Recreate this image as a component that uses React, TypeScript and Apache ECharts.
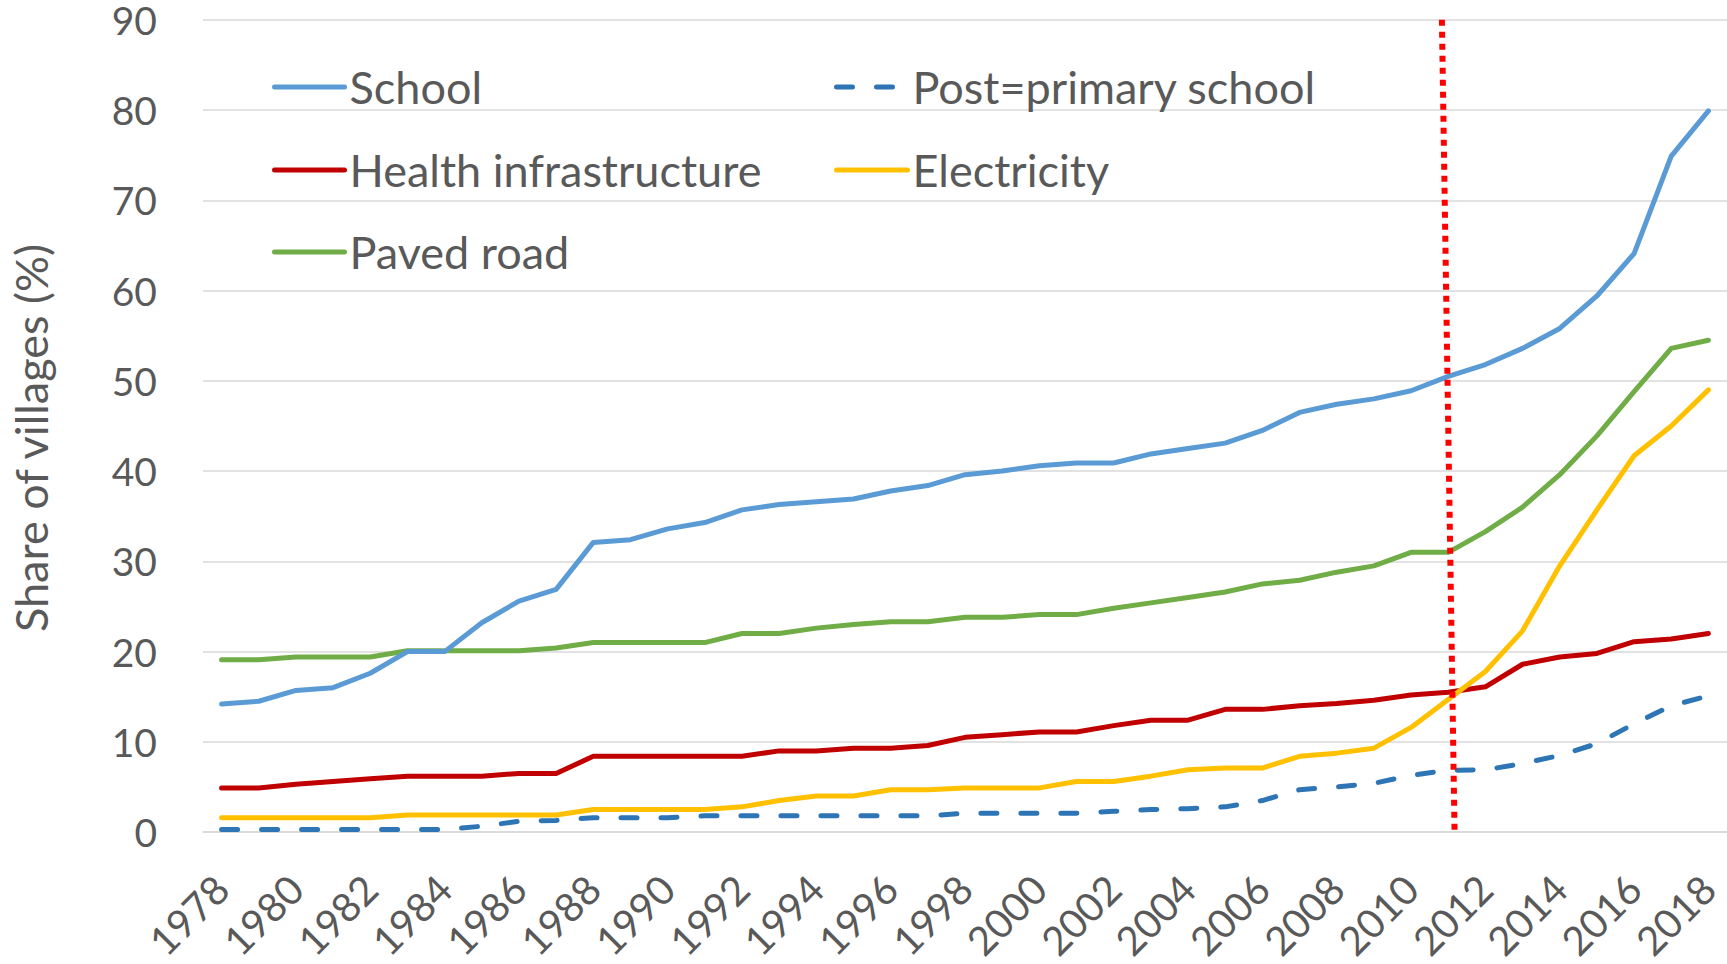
import React, { useEffect, useRef } from "react";
import * as echarts from "echarts";

const years = ["1978","1979","1980","1981","1982","1983","1984","1985","1986","1987","1988","1989","1990","1991","1992","1993","1994","1995","1996","1997","1998","1999","2000","2001","2002","2003","2004","2005","2006","2007","2008","2009","2010","2011","2012","2013","2014","2015","2016","2017","2018"];

const school = [14.2, 14.5, 15.7, 16.0, 17.6, 20.0, 20.0, 23.2, 25.6, 26.9, 32.1, 32.4, 33.6, 34.3, 35.7, 36.3, 36.6, 36.9, 37.8, 38.4, 39.6, 40.0, 40.6, 40.9, 40.9, 41.9, 42.5, 43.1, 44.5, 46.5, 47.4, 48.0, 48.9, 50.5, 51.8, 53.6, 55.8, 59.4, 64.1, 74.9, 79.9];
const postPrimary = [0.3, 0.3, 0.3, 0.3, 0.3, 0.3, 0.3, 0.65, 1.2, 1.3, 1.6, 1.6, 1.6, 1.8, 1.8, 1.8, 1.8, 1.8, 1.8, 1.8, 2.1, 2.1, 2.1, 2.1, 2.3, 2.5, 2.6, 2.8, 3.5, 4.7, 5.0, 5.4, 6.3, 6.85, 6.9, 7.6, 8.5, 9.8, 12.0, 14.0, 15.1];
const health = [4.9, 4.9, 5.3, 5.6, 5.9, 6.2, 6.2, 6.2, 6.5, 6.5, 8.4, 8.4, 8.4, 8.4, 8.4, 9.0, 9.0, 9.3, 9.3, 9.6, 10.5, 10.8, 11.1, 11.1, 11.8, 12.4, 12.4, 13.6, 13.6, 14.0, 14.25, 14.6, 15.2, 15.5, 16.1, 18.6, 19.4, 19.8, 21.1, 21.4, 22.0];
const electricity = [1.6, 1.6, 1.6, 1.6, 1.6, 1.9, 1.9, 1.9, 1.9, 1.9, 2.5, 2.5, 2.5, 2.5, 2.8, 3.5, 4.0, 4.0, 4.7, 4.7, 4.9, 4.9, 4.9, 5.6, 5.6, 6.2, 6.9, 7.1, 7.1, 8.4, 8.75, 9.3, 11.6, 14.7, 17.8, 22.3, 29.5, 35.7, 41.7, 45.0, 49.0];
const pavedRoad = [19.1, 19.1, 19.4, 19.4, 19.4, 20.1, 20.1, 20.1, 20.1, 20.4, 21.0, 21.0, 21.0, 21.0, 22.0, 22.0, 22.6, 23.0, 23.3, 23.3, 23.8, 23.8, 24.1, 24.1, 24.8, 25.4, 26.0, 26.6, 27.5, 27.9, 28.8, 29.5, 31.0, 31.0, 33.3, 36.0, 39.6, 43.9, 48.8, 53.6, 54.5];

const seriesNames = ["School", "Post=primary school", "Health infrastructure", "Electricity", "Paved road"];
const seriesColors = ["#5B9BD5", "#2E75B6", "#C00000", "#FFC000", "#70AD47"];

// red dotted reference line near 2011: [category index position, value]
const refLine = [
  [32.83, 90],
  [33.17, 0.2],
];

const TEXT = "#595959";
const FONT = "Lato, 'Open Sans', sans-serif";

export default function App() {
  const ref = useRef<HTMLDivElement>(null);
  useEffect(() => {
    if (!ref.current) return;
    const chart = echarts.init(ref.current, undefined, { renderer: "svg" });
    const values = [school, postPrimary, health, electricity, pavedRoad];
    const legendPos = [
      { left: 272, top: 87, w: 70 },
      { left: 834, top: 87, w: 71 },
      { left: 272, top: 170, w: 70 },
      { left: 834, top: 170, w: 71 },
      { left: 272, top: 252, w: 70 },
    ];
    const series: any[] = values.map((d, i) => ({
      name: seriesNames[i],
      type: "line",
      data: d,
      symbol: "none",
      smooth: false,
      z: i === 0 ? 3 : 2,
      lineStyle: {
        color: seriesColors[i],
        width: 5,
        cap: "round",
        join: "round",
        type: i === 1 ? [16, 24] : "solid",
      },
      itemStyle: { color: seriesColors[i] },
    }));
    series.push({
      name: "ref2011",
      type: "line",
      xAxisIndex: 1,
      data: refLine,
      symbol: "none",
      silent: true,
      z: 10,
      lineStyle: { color: "#FF0000", width: 6, type: [6, 6], cap: "butt" },
    });
    chart.setOption({
      animation: false,
      backgroundColor: "#ffffff",
      textStyle: { fontFamily: FONT },
      legend: seriesNames.map((n, i) => ({
        data: [n],
        left: legendPos[i].left,
        top: legendPos[i].top - 25,
        padding: 0,
        itemWidth: legendPos[i].w,
        itemHeight: 20,
        selectedMode: false,
        itemStyle: { opacity: 0 },
        lineStyle: { width: 5, cap: "round", type: "inherit", color: "inherit" },
        textStyle: { fontSize: 45, color: TEXT, fontFamily: FONT, lineHeight: 50 },
      })),
      grid: { left: 200, right: 0, top: 19.8, bottom: 120.3, containLabel: false },
      xAxis: [
        {
          type: "category",
          data: years,
          boundaryGap: true,
          axisLine: { show: true, lineStyle: { color: "#D9D9D9", width: 1.5 } },
          axisTick: { show: false },
          axisLabel: {
            interval: 1,
            rotate: 45,
            margin: 50,
            fontSize: 40,
            color: TEXT,
            fontFamily: FONT,
          },
          splitLine: { show: false },
        },
        {
          type: "value",
          min: -0.5,
          max: 40.5,
          show: false,
          position: "bottom",
          splitLine: { show: false },
        },
      ],
      yAxis: {
        type: "value",
        min: 0,
        max: 90,
        interval: 10,
        name: "Share of villages (%)",
        nameLocation: "middle",
        nameGap: 150,
        nameTextStyle: { fontSize: 45, color: TEXT, fontFamily: FONT, padding: [0, 24, 0, 0] },
        axisLine: { show: false },
        axisTick: { show: false },
        axisLabel: { margin: 46, fontSize: 39, lineHeight: 36, color: TEXT, fontFamily: FONT },
        splitLine: { lineStyle: { color: "#D9D9D9", width: 1.5 } },
      },
      series,
    });
    return () => chart.dispose();
  }, []);
  return (
    <div
      ref={ref}
      style={{ position: "fixed", left: 0, top: 0, width: 1727, height: 964, background: "#fff" }}
    />
  );
}
